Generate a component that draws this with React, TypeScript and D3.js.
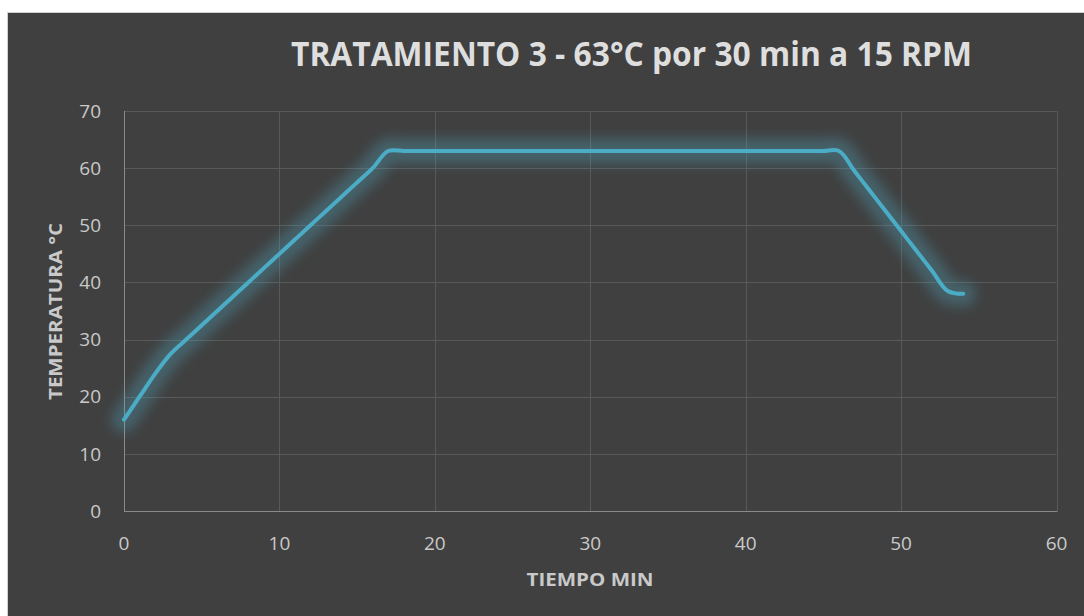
import React from "react";
import * as d3 from "d3";

const minutes: number[] = [
  0, 1, 2, 3, 4, 5, 6, 7, 8, 9, 10, 11, 12, 13, 14, 15, 16, 17, 18, 19, 20,
  21, 22, 23, 24, 25, 26, 27, 28, 29, 30, 31, 32, 33, 34, 35, 36, 37, 38, 39,
  40, 41, 42, 43, 44, 45, 46, 47, 48, 49, 50, 51, 52, 53, 54,
];
const temps: number[] = [
  16, 20, 24, 27.5, 30, 32.5, 35, 37.5, 40, 42.5, 45, 47.5, 50, 52.5, 55, 57.5,
  60, 63, 63, 63, 63, 63, 63, 63, 63, 63, 63, 63, 63, 63, 63, 63, 63, 63, 63,
  63, 63, 63, 63, 63, 63, 63, 63, 63, 63, 63, 63, 59.5, 56, 52.5, 49, 45.5, 42,
  38.5, 38,
];
const xTicks: number[] = [0, 10, 20, 30, 40, 50, 60];
const yTicks: number[] = [0, 10, 20, 30, 40, 50, 60, 70];
const title = "TRATAMIENTO 3 - 63°C por 30 min a 15 RPM";
const xTitle = "TIEMPO MIN";
const yTitle = "TEMPERATURA °C";

const W = 1084;
const H = 616;
const FONT = "'Open Sans', 'Noto Sans', sans-serif";

export default function App() {
  const x = d3.scaleLinear().domain([0, 60]).range([124, 1056.5]);
  const y = d3.scaleLinear().domain([0, 70]).range([511, 111]);
  const pts = minutes.map((m, i) => [m, temps[i]] as [number, number]);
  const line = d3
    .line<[number, number]>()
    .x((d) => x(d[0]))
    .y((d) => y(d[1]))
    .curve(d3.curveCatmullRom.alpha(0.5));
  const path = line(pts) || "";
  return (
    <svg
      width={W}
      height={H}
      style={{ position: "absolute", left: 0, top: 0, display: "block" }}
    >
      <defs>
        <filter id="glow" x="-10%" y="-30%" width="120%" height="160%">
          <feGaussianBlur stdDeviation="6" />
        </filter>
      </defs>
      <rect x={0} y={0} width={W} height={H} fill="#ffffff" />
      <rect
        x={7.5}
        y={12.5}
        width={W}
        height={H}
        fill="#404040"
        stroke="#d0d0d0"
        strokeWidth={1}
      />
      {yTicks.map((t) => (
        <line
          key={"gy" + t}
          x1={x(0)}
          x2={x(60)}
          y1={Math.round(y(t)) + 0.5}
          y2={Math.round(y(t)) + 0.5}
          stroke="#595959"
          strokeWidth={1}
        />
      ))}
      {xTicks.map((t) => (
        <line
          key={"gx" + t}
          x1={Math.round(x(t)) + 0.5}
          x2={Math.round(x(t)) + 0.5}
          y1={y(70)}
          y2={y(0)}
          stroke="#595959"
          strokeWidth={1}
        />
      ))}
      <line
        x1={Math.round(x(0)) + 0.5}
        x2={Math.round(x(0)) + 0.5}
        y1={y(70)}
        y2={y(0) + 1}
        stroke="#8a8a8a"
        strokeWidth={1}
      />
      <line
        x1={x(0)}
        x2={x(60) + 1}
        y1={Math.round(y(0)) + 0.5}
        y2={Math.round(y(0)) + 0.5}
        stroke="#8a8a8a"
        strokeWidth={1}
      />
      {yTicks.map((t) => (
        <text
          key={"ty" + t}
          x={101}
          y={y(t)}
          dy="0.35em"
          textAnchor="end"
          fill="#c9c9c9"
          fontFamily={FONT}
          fontSize={19}
        >
          {t}
        </text>
      ))}
      {xTicks.map((t) => (
        <text
          key={"tx" + t}
          x={x(t)}
          y={550}
          textAnchor="middle"
          fill="#c9c9c9"
          fontFamily={FONT}
          fontSize={19}
        >
          {t}
        </text>
      ))}
      <path
        d={path}
        fill="none"
        stroke="#4bacc6"
        strokeOpacity={0.3}
        strokeWidth={26}
        strokeLinejoin="round"
        strokeLinecap="round"
        filter="url(#glow)"
      />
      <path
        d={path}
        fill="none"
        stroke="#4bacc6"
        strokeWidth={4}
        strokeLinejoin="round"
        strokeLinecap="round"
      />
      <text
        x={631.5}
        y={65.5}
        textAnchor="middle"
        fill="#dedede"
        fontFamily={FONT}
        fontWeight="bold"
        fontSize={34}
        textLength={681}
        lengthAdjust="spacingAndGlyphs"
      >
        {title}
      </text>
      <text
        x={590}
        y={586}
        textAnchor="middle"
        fill="#c9c9c9"
        fontFamily={FONT}
        fontWeight="bold"
        fontSize={17}
        textLength={127}
        lengthAdjust="spacingAndGlyphs"
      >
        {xTitle}
      </text>
      <text
        transform={`translate(62,311.5) rotate(-90)`}
        textAnchor="middle"
        fill="#c9c9c9"
        fontFamily={FONT}
        fontWeight="bold"
        fontSize={17}
        textLength={177}
        lengthAdjust="spacingAndGlyphs"
      >
        {yTitle}
      </text>
    </svg>
  );
}
